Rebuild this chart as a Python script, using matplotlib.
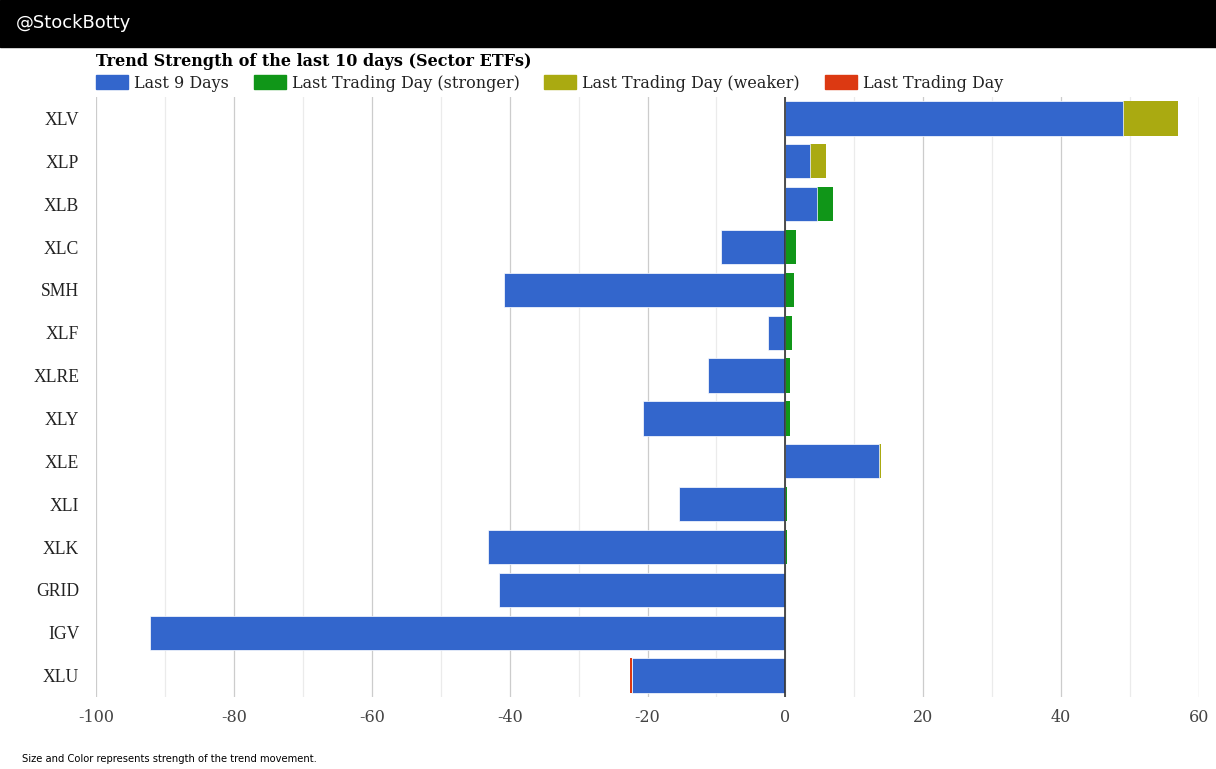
import numpy as np
import matplotlib.pyplot as plt
from matplotlib.patches import Patch, Rectangle
from matplotlib.ticker import MultipleLocator

plt.rcParams['axes.unicode_minus'] = False

tickers = ['XLV', 'XLP', 'XLB', 'XLC', 'SMH', 'XLF', 'XLRE', 'XLY',
           'XLE', 'XLI', 'XLK', 'GRID', 'IGV', 'XLU']
last_9 = [49.0, 3.5, 4.6, -9.4, -40.8, -2.5, -11.2, -20.6,
          13.6, -15.5, -43.1, -41.5, -92.1, -22.3]
last_day = [7.9, 2.4, 2.3, 1.6, 1.2, 0.9, 0.7, 0.7,
            0.3, 0.2, 0.2, 0.1, 0.1, -0.2]
day_kind = ['weaker', 'weaker', 'stronger', 'stronger', 'stronger', 'stronger', 'stronger', 'stronger',
            'weaker', 'stronger', 'stronger', 'stronger', 'stronger', 'plain']

blue = '#3366CC'
kind_colors = {'stronger': '#109618', 'weaker': '#AAAA11', 'plain': '#DC3912'}

W, H = 1216, 769
fig = plt.figure(figsize=(W / 100, H / 100), dpi=100)

# header band
fig.patches.append(Rectangle((0, 1 - 47 / H), 1, 47 / H, transform=fig.transFigure,
                             color='black', zorder=0))
fig.text(16 / W, 1 - 23 / H, '@StockBotty', color='white', fontsize=13,
         family='DejaVu Sans', va='center', ha='left')

ax = fig.add_axes([96 / W, 1 - 697 / H, (1199 - 96) / W, (697 - 97) / H])

y = np.arange(len(tickers))
x9 = np.array(last_9)
xd = np.array(last_day)
# relative stacking: same sign stacks on the base, otherwise starts at 0
starts = np.where(np.sign(xd) == np.sign(x9), x9, 0)
seg_colors = [kind_colors[k] for k in day_kind]

ax.barh(y, xd, left=starts, height=0.8, color=seg_colors, zorder=2)
ax.barh(y, x9, height=0.8, color=blue, edgecolor='white', linewidth=0.5, zorder=3)

ax.axvline(0, color='#333333', lw=1.2, zorder=4)

ax.set_xlim(-100, 60)
ax.set_ylim(len(tickers) - 0.5, -0.5)
ax.xaxis.set_major_locator(MultipleLocator(20))
ax.xaxis.set_minor_locator(MultipleLocator(10))
ax.grid(axis='x', which='major', color='#cccccc', lw=0.9, zorder=0)
ax.grid(axis='x', which='minor', color='#ebebeb', lw=0.9, zorder=0)
ax.set_axisbelow(True)
for s in ax.spines.values():
    s.set_visible(False)

ax.set_yticks(y)
ax.set_yticklabels(tickers, family='Liberation Serif', fontsize=12.7, color='#222222')
ax.tick_params(axis='y', length=0, pad=12)
ax.tick_params(axis='x', which='both', length=0, pad=9, labelsize=11.5, labelcolor='#444444')
for lab in ax.get_xticklabels():
    lab.set_family('DejaVu Serif')

fig.text(96 / W, 1 - 62 / H, 'Trend Strength of the last 10 days (Sector ETFs)',
         family='DejaVu Serif', fontweight='bold', fontsize=11.5, va='center', ha='left')

handles = [Patch(color=blue, label='Last 9 Days'),
           Patch(color=kind_colors['stronger'], label='Last Trading Day (stronger)'),
           Patch(color=kind_colors['weaker'], label='Last Trading Day (weaker)'),
           Patch(color=kind_colors['plain'], label='Last Trading Day')]
fig.legend(handles=handles, loc='center left', bbox_to_anchor=(96 / W, 1 - 83 / H),
           ncol=4, frameon=False, borderpad=0, borderaxespad=0,
           prop={'family': 'DejaVu Serif', 'size': 11.5}, labelcolor='#222222',
           handlelength=2.0, handleheight=1.0, handletextpad=0.38, columnspacing=1.55)

fig.text(22 / W, 1 - 759 / H, 'Size and Color represents strength of the trend movement.',
         family='DejaVu Sans', fontsize=7.2, va='center', ha='left')

fig.savefig('out.png', dpi=100)
